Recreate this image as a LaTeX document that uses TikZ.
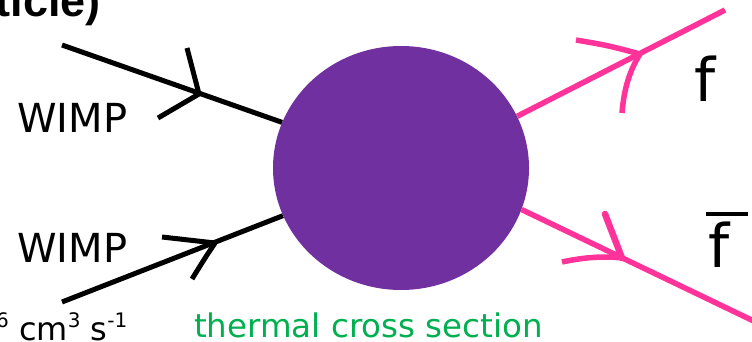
\documentclass[tikz,border=0pt]{standalone}
\usepackage{fontspec}
\setmainfont{DejaVu Sans}
\newfontfamily\titlefont{Liberation Sans}
\usetikzlibrary{shapes.geometric}
\definecolor{blobpurple}{HTML}{7030A0}
\definecolor{fpink}{HTML}{FF3399}
\definecolor{tgreen}{HTML}{00B050}
\begin{document}
\begin{tikzpicture}[x=1pt,y=-1pt,
  wline/.style={line width=5pt,black},
  pline/.style={line width=5.5pt,fpink},
  lbl/.style={inner sep=0pt,anchor=base west},
]
\useasboundingbox (0,0) rectangle (752,342);
\clip (0,0) rectangle (752,342);
\node[ellipse, fill=blobpurple, minimum width=256pt, minimum height=244pt, inner sep=0pt] (blob) at (401,168) {};
% free ends and arrow vertices
\coordinate (wa) at (62,45);
\coordinate (wb) at (62,302);
\coordinate (fa) at (725,10);
\coordinate (fb) at (762,325);
\coordinate (va) at (199,94);
\coordinate (vb) at (215,243);
\coordinate (vfa) at (640,54);
\coordinate (vfb) at (622,258);
% lines
\draw[wline] (wa) -- (blob.159);
\draw[wline] (wb) -- (blob.202);
\draw[pline] (blob.24) -- (fa);
\draw[pline] (blob.341) -- (fb);
% arrowheads
\draw[wline] (187,48) -- (va);
\draw[wline] (158,118) -- (va);
\draw[wline] (162,237) -- (vb);
\draw[wline] (192,279) .. controls (205,258) .. (vb);
\draw[pline] (576,40) .. controls (608,45.5) .. (vfa);
\draw[pline] (622,113) .. controls (624,88) and (630,70) .. (vfa);
\draw[pline] (562,262) .. controls (585,257) and (605,256) .. (vfb);
\draw[pline,line width=6.5pt,line cap=round] (605,214) -- (vfb);
% texts
\node[anchor=base east, inner sep=0pt] (title) at (101,17) {\titlefont\bfseries\fontsize{45}{45}\selectfont ticle)};
\node[lbl] (wimpa) at (17,132) {\fontsize{40}{40}\selectfont WIMP};
\node[lbl] (wimpb) at (17,262) {\fontsize{40}{40}\selectfont WIMP};
\node[lbl] (f) at (694,102) {\fontsize{60}{60}\selectfont f};
\node[lbl] (fbar) at (706,267) {\fontsize{60}{60}\selectfont\rlap{\raisebox{51pt}{\rule{42pt}{4pt}}}\hspace{2pt}f};
\node[lbl,text=tgreen] (xs) at (194,337) {\fontsize{32.5}{32.5}\selectfont thermal cross section};
\node[lbl] (units) at (-4,340) {\fontsize{32}{32}\selectfont\raisebox{13pt}{\fontsize{20}{20}\selectfont 6} cm\raisebox{13pt}{\fontsize{20}{20}\selectfont 3} s\raisebox{13pt}{\fontsize{20}{20}\selectfont -1}};
\end{tikzpicture}
\end{document}
